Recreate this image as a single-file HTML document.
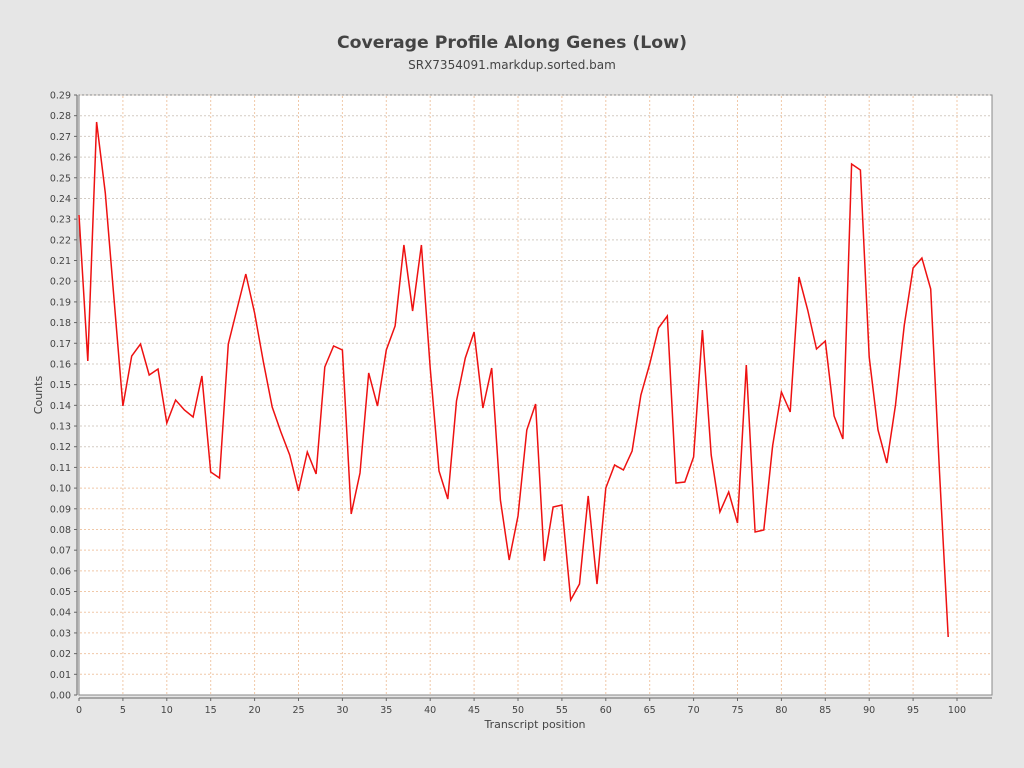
<!DOCTYPE html>
<html><head><meta charset="utf-8"><style>body{margin:0;background:#e6e6e6}svg{display:block;font-family:"DejaVu Sans","Liberation Sans",sans-serif}</style></head><body>
<svg width="1024" height="768" viewBox="0 0 1024 768" xmlns="http://www.w3.org/2000/svg">
<rect width="1024" height="768" fill="#e6e6e6"/>
<text x="512" y="48" text-anchor="middle" font-size="17.3" font-weight="bold" fill="#444">Coverage Profile Along Genes (Low)</text>
<text x="512" y="69" text-anchor="middle" font-size="12" fill="#444">SRX7354091.markdup.sorted.bam</text>
<rect x="79" y="95" width="913" height="600" fill="#fff" stroke="#888" stroke-width="1"/>
<g id="grid" stroke-dasharray="2,2" stroke-width="1"></g>
<g id="axes" font-size="9.5" fill="#444"></g>
<polyline id="line" fill="none" stroke="#ee1111" stroke-width="1.5"/>
<text x="535" y="728" text-anchor="middle" font-size="11" fill="#444">Transcript position</text>
<text transform="translate(42,395) rotate(-90)" text-anchor="middle" font-size="11" fill="#444">Counts</text>
<script>
var ys=[215,361,122,193,300,406,356,344,375,369,423,400,410,417,376,472,478,344,309,274,313,362,407,432,455,491,452,474,367,346,350,514,473,373,406,350,326,245,311,245,368,471,499,401,358,332,408,368,500,560,516,430,404,561,507,505,600,584,496,584,488,465,470,451,395,364,328,316,483,482,457,330,455,512,492,523,365,532,530,446,392,412,277,310,349,341,416,439,164,170,357,430,463,405,325,268,258,289,470,637];
var ns="http://www.w3.org/2000/svg";
function X(i){return 79+i*8.78;}
document.getElementById('line').setAttribute('points',ys.map(function(y,i){return X(i).toFixed(1)+','+y}).join(' '));
var g=document.getElementById('grid'),a=document.getElementById('axes');
function el(p,t,at){var e=document.createElementNS(ns,t);for(var k in at)e.setAttribute(k,at[k]);p.appendChild(e);return e;}
for(var j=0;j<=29;j++){var y=695-j*600/29;
 if(j>0)el(g,'line',{x1:80,x2:991,y1:y,y2:y,stroke:j<12?'#f0c8a8':'#d4ccc4'});
 el(a,'line',{x1:74,x2:77,y1:y,y2:y,stroke:'#666'});
 var t=el(a,'text',{x:71,y:y+3.5,'text-anchor':'end'});t.textContent=(j/100).toFixed(2);}
for(var i=0;i<=100;i+=5){var x=X(i);
 if(i>0)el(g,'line',{x1:x,x2:x,y1:96,y2:694,stroke:'#f0c8a8'});
 el(a,'line',{x1:x,x2:x,y1:698,y2:701,stroke:'#666'});
 var t=el(a,'text',{x:x,y:713,'text-anchor':'middle'});t.textContent=i;}
el(a,'line',{x1:77,x2:77,y1:95,y2:695,stroke:'#666'});
el(a,'line',{x1:79,x2:992,y1:698,y2:698,stroke:'#666'});
</script>
</svg>
</body></html>
